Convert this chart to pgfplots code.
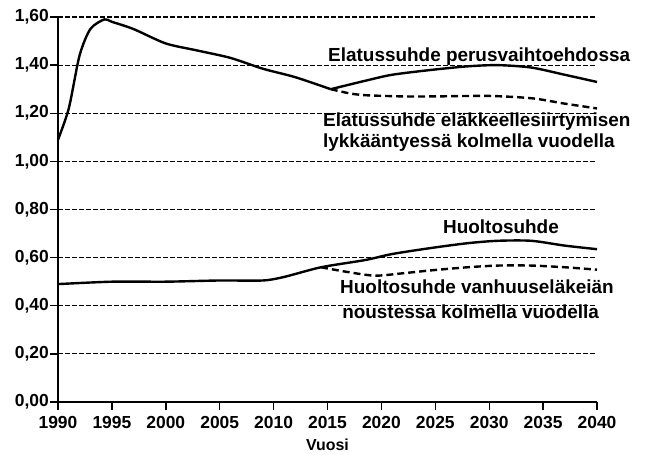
\documentclass[border=0pt]{standalone}
\usepackage{fontspec}
\setmainfont{Liberation Sans}
\usepackage{pgfplots}
\pgfplotsset{compat=1.18}
\newcommand\lab{\fontsize{19}{22}\selectfont\bfseries}
\begin{document}
\begin{tikzpicture}
\begin{axis}[name=ax, scale only axis, width=539bp, height=385bp,
  xmin=1990, xmax=2040, ymin=0, ymax=1.6,
  axis x line*=bottom, axis y line*=left,
  axis line style={line width=1.4bp, -},
  xtick={1990,1995,2000,2005,2010,2015,2020,2025,2030,2035,2040},
  xticklabels={1990,1995,2000,2005,2010,2015,2020,2025,2030,2035,2040},
  ytick={0,0.2,0.4,0.6,0.8,1.0,1.2,1.4,1.6},
  yticklabels={{0,00},{0,20},{0,40},{0,60},{0,80},{1,00},{1,20},{1,40},{1,60}},
  tick align=outside, major tick length=8bp,
  tick style={line width=1.4bp, black},
  tick label style={font=\fontsize{17.5}{20}\selectfont\bfseries},
  yticklabel style={inner sep=1bp},
  xticklabel style={yshift=-3bp},
  ymajorgrids,
  grid style={black, line width=1.2bp, dash pattern=on 4.5bp off 2.5bp},
  xlabel={Vuosi},
  xlabel style={at={(axis description cs:0.5,0)}, anchor=base, yshift=-48bp, inner sep=0pt, font=\fontsize{16}{18}\selectfont\bfseries},
  clip=false,
]
\addplot[black, line width=2.4bp, smooth, tension=0.45] coordinates {
(1990,1.09) (1991,1.22) (1992,1.44) (1993,1.55) (1994.3,1.59) (1995,1.58)
(1997,1.55) (2000,1.49) (2003,1.46) (2006,1.43) (2009,1.385) (2012,1.35)
(2015.3,1.30)};
\addplot[black, line width=2.4bp, smooth, tension=0.45] coordinates {
(2015.3,1.30) (2018.5,1.335) (2021,1.36) (2024.6,1.38) (2028,1.395)
(2030.8,1.40) (2033.9,1.39) (2037,1.36) (2040,1.33)};
\addplot[black, line width=2.4bp, smooth, tension=0.45, dash pattern=on 7bp off 4bp] coordinates {
(2015.3,1.30) (2017,1.283) (2018.5,1.275) (2022,1.27) (2025,1.27) (2030,1.272)
(2034,1.262) (2037,1.24) (2040,1.22)};
\addplot[black, line width=2.4bp, smooth, tension=0.45] coordinates {
(1990,0.49) (1995,0.50) (2000,0.50) (2005,0.505) (2009,0.505) (2011,0.52)
(2014.4,0.56) (2018.5,0.59) (2021,0.615) (2024.6,0.64) (2028,0.66)
(2030.8,0.67) (2033.9,0.67) (2037,0.65) (2040,0.635)};
\addplot[black, line width=2.4bp, smooth, tension=0.45, dash pattern=on 7bp off 4bp] coordinates {
(2014.4,0.56) (2016.9,0.54) (2019.4,0.525) (2022,0.535) (2024.6,0.547)
(2028,0.56) (2030.8,0.567) (2033.9,0.567) (2037,0.56) (2040,0.55)};
\node[anchor=base west, inner sep=0pt, font=\lab] at (axis cs:2015.05,1.413) {Elatussuhde perusvaihtoehdossa};
\node[anchor=base west, inner sep=0pt, font=\lab] at (axis cs:2014.58,1.143) {Elatussuhde eläkkeellesiirtymisen};
\node[anchor=base west, inner sep=0pt, font=\lab] at (axis cs:2014.58,1.056) {lykkääntyessä kolmella vuodella};
\node[anchor=base west, inner sep=0pt, font=\lab] at (axis cs:2025.71,0.702) {Huoltosuhde};
\node[anchor=base west, inner sep=0pt, font=\lab] at (axis cs:2016.16,0.453) {Huoltosuhde vanhuuseläkeiän};
\node[anchor=base west, inner sep=0pt, font=\lab] at (axis cs:2016.35,0.349) {noustessa kolmella vuodella};
\end{axis}
\pgfresetboundingbox
\path[use as bounding box] ([shift={(-58bp,-52bp)}]ax.south west) rectangle ([shift={(49bp,17bp)}]ax.north east);
\end{tikzpicture}
\end{document}
